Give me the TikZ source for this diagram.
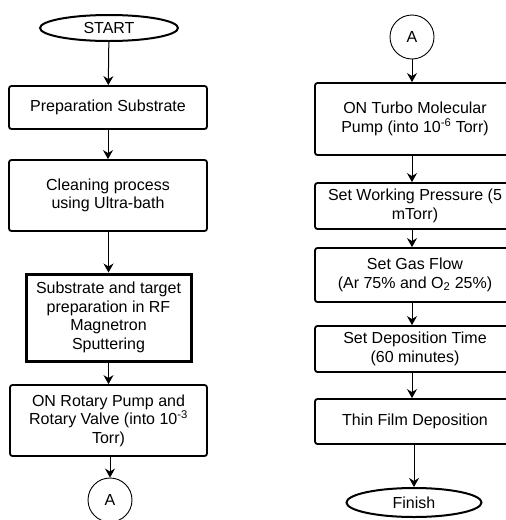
\documentclass[tikz,border=0pt]{standalone}
\usepackage{fontspec}
\setmainfont{Liberation Sans}
\usetikzlibrary{shapes.geometric,arrows.meta}
\begin{document}
\begin{tikzpicture}[x=1pt,y=-1pt,
  every node/.style={font=\fontsize{16}{18.5}\selectfont, align=center, inner sep=0pt},
  box/.style={draw, line width=1.8pt, rounded corners=2.5pt, minimum width=#1},
  box/.default=198pt,
  thickbox/.style={draw, line width=3pt, minimum width=165pt},
  term/.style={draw, ellipse, line width=2pt},
  conn/.style={draw, circle, line width=0.9pt, minimum size=44pt},
  arr/.style={-{Stealth[length=9pt,width=10pt,inset=3pt]}, line width=1pt}
]
\useasboundingbox (0,0) rectangle (506,520);
% left column
\node[term, minimum width=138pt, minimum height=26pt] (start) at (109,28) {START};
\node[box, minimum height=43pt] (prep) at (108,107.5) {Preparation Substrate};
\node[box, minimum height=71pt] (clean) at (108,195.5) {Cleaning process\\using Ultra-bath};
\node[thickbox, minimum height=87pt] (sub) at (108.5,317.5) {Substrate and target\\preparation in RF\\Magnetron\\Sputtering};
\node[box=197pt, minimum height=71pt] (rot) at (108.5,420.5) {ON Rotary Pump and\\Rotary Valve (into 10\textsuperscript{-3}\\Torr)};
\node[conn] (a1) at (110,500) {A};
% right column
\node[conn] (a2) at (412,37) {A};
\node[box=200pt, minimum height=72pt] (turbo) at (415,119) {ON Turbo Molecular\\Pump (into 10\textsuperscript{-6} Torr)};
\node[box=200pt, minimum height=46pt] (work) at (415,206) {Set Working Pressure (5\\mTorr)};
\node[box=200pt, minimum height=54pt] (gas) at (415,275) {Set Gas Flow\\(Ar 75\% and O\textsubscript{2} 25\%)};
\node[box=200pt, minimum height=46pt] (dep) at (415,349) {Set Deposition Time\\(60 minutes)};
\node[box=200pt, minimum height=45pt] (thin) at (415,421.5) {Thin Film Deposition};
\node[term, minimum width=135pt, minimum height=29pt] (fin) at (414,502.5) {Finish};
% connectors
\draw[arr] (start) -- (prep);
\draw[arr] (prep) -- (clean);
\draw[arr] (clean.south -| sub.north) -- (sub);
\draw[arr] (sub) -- (sub.south |- rot.north);
\draw[arr] (rot.south -| a1.north) -- (a1);
\draw[arr] (a2) -- (a2.south |- turbo.north);
\draw[arr] (turbo.south -| a2.south) -- (work.north -| a2.south);
\draw[arr] (work.south -| a2.south) -- (gas.north -| a2.south);
\draw[arr] (gas.south -| a2.south) -- (dep.north -| a2.south);
\draw[arr] (dep.south -| a2.south) -- (thin.north -| a2.south);
\draw[arr] (thin.south -| fin.north) -- (fin);
\end{tikzpicture}
\end{document}
